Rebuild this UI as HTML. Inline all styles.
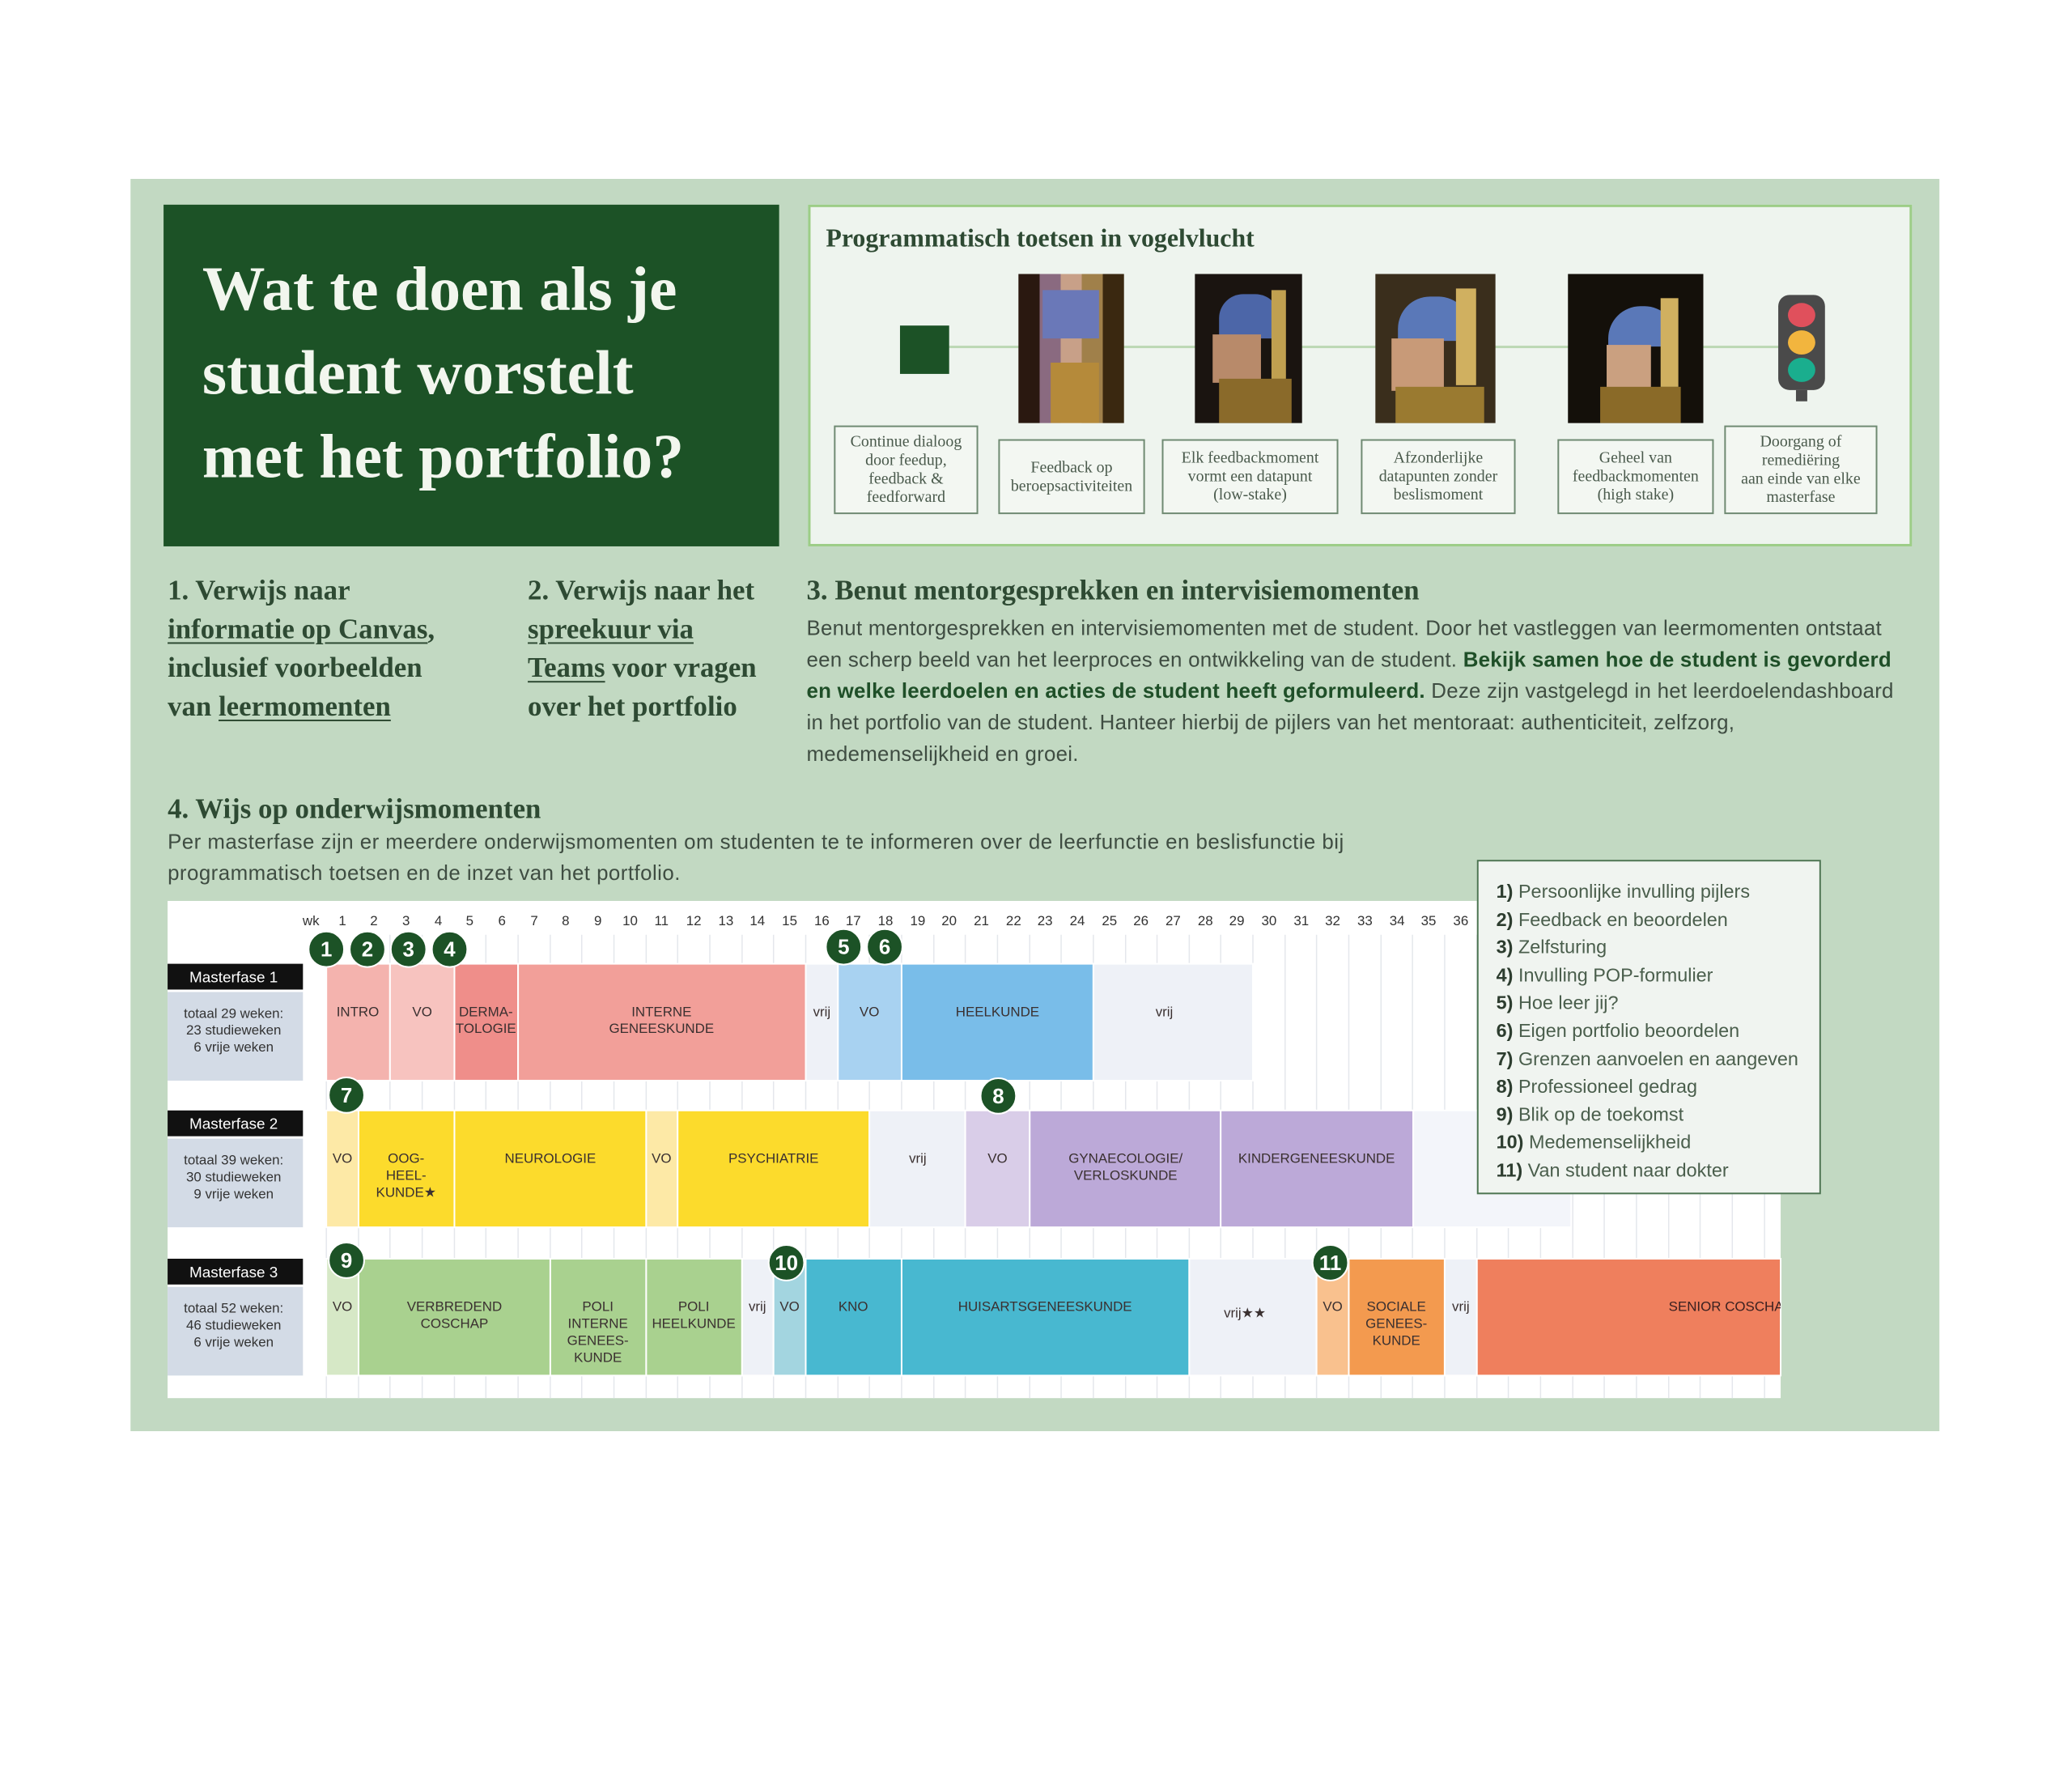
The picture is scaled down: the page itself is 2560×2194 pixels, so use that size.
<!DOCTYPE html>
<html><head><meta charset="utf-8">
<style>
*{margin:0;padding:0;box-sizing:border-box}
body{width:2560px;height:2194px;background:#fff;position:relative;overflow:hidden;font-family:"Liberation Sans",sans-serif}
#w{position:absolute;left:0;top:0;width:2560px;height:2194px;transform:scale(0.9955);transform-origin:0 0}
.a{position:absolute}
.serif{font-family:"Liberation Serif",serif}
.title{left:203px;top:254px;width:764px;height:424px;background:#1c5226}
.title div{position:absolute;left:48px;top:52px;color:#f2f6ee;font-family:"Liberation Serif",serif;font-weight:bold;font-size:78px;line-height:104px;white-space:nowrap}
.prog{left:1003px;top:254px;width:1370px;height:424px;background:#eef4ee;border:3px solid #9ccd86}
.lbl{position:absolute;border:2px solid #6f8a72;background:#f3f7f2;color:#4a5a4c;font-family:"Liberation Serif",serif;font-size:20px;line-height:23px;text-align:center;display:flex;align-items:center;justify-content:center}
.h{color:#2e4a33;font-family:"Liberation Serif",serif;font-weight:bold;font-size:35px;line-height:48px;white-space:nowrap}
.h u{text-decoration-thickness:2px;text-underline-offset:5px}
.body{color:#3f4d42;font-size:26px;line-height:39px;white-space:nowrap}
.body b{color:#1f4f28}
.paint{position:absolute;background:#1a1410;overflow:hidden}
.legend{left:1833px;top:1067px;width:427px;height:415px;background:#f0f4f0;border:2px solid #4d7552;padding:20px 0 0 22px}
.legend div{color:#4a5e4c;font-size:23.5px;line-height:34.6px;white-space:nowrap}
.legend b{color:#2d3d2f}
</style></head><body><div id="w">
<div class="a" style="left:162px;top:222px;width:2245px;height:1554px;background:#c2d9c2"></div>

<div class="a title"><div>Wat te doen als je<br>student worstelt<br>met het portfolio?</div></div>

<div class="a prog">
  <div class="a serif" style="left:19px;top:20px;font-size:32px;font-weight:bold;color:#2e4a33;white-space:nowrap">Programmatisch toetsen in vogelvlucht</div>
  <div class="a" style="left:172px;top:172px;width:1030px;height:3px;background:#bcd8b4"></div>
  <div class="a" style="left:111px;top:147px;width:61px;height:60px;background:#1c5226"></div>
  <div class="paint" style="left:258px;top:83px;width:131px;height:185px;background:linear-gradient(90deg,#2a1810 0 20%,#8a6a80 20% 40%,#c8a088 40% 60%,#a0804a 60% 80%,#3a2810 80%)">
    <div class="a" style="left:30px;top:20px;width:70px;height:60px;background:#6a78b8"></div>
    <div class="a" style="left:40px;top:110px;width:60px;height:75px;background:#b58a3a"></div>
  </div>
  <div class="paint" style="left:477px;top:83px;width:133px;height:185px">
    <div class="a" style="left:30px;top:25px;width:75px;height:55px;background:#4c66a8;border-radius:30px 30px 0 0"></div>
    <div class="a" style="left:22px;top:75px;width:60px;height:60px;background:#b88a6a"></div>
    <div class="a" style="left:30px;top:130px;width:90px;height:55px;background:#8a6a2a"></div>
    <div class="a" style="left:95px;top:20px;width:18px;height:110px;background:#c0a050"></div>
  </div>
  <div class="paint" style="left:701px;top:83px;width:149px;height:185px;background:#3a2e1c">
    <div class="a" style="left:28px;top:28px;width:90px;height:55px;background:#5a78b8;border-radius:40px 40px 0 0"></div>
    <div class="a" style="left:20px;top:80px;width:65px;height:65px;background:#c89a78"></div>
    <div class="a" style="left:25px;top:140px;width:110px;height:45px;background:#9a7a30"></div>
    <div class="a" style="left:100px;top:18px;width:25px;height:120px;background:#d0b060"></div>
  </div>
  <div class="paint" style="left:940px;top:83px;width:168px;height:185px;background:#14100a">
    <div class="a" style="left:50px;top:40px;width:85px;height:50px;background:#5a78b8;border-radius:40px 40px 0 0"></div>
    <div class="a" style="left:48px;top:88px;width:55px;height:60px;background:#caa080"></div>
    <div class="a" style="left:40px;top:140px;width:100px;height:45px;background:#8a6a28"></div>
    <div class="a" style="left:115px;top:30px;width:22px;height:110px;background:#d0b060"></div>
  </div>
  <div class="a" style="left:1201px;top:109px;width:58px;height:118px;background:#4a4a4a;border-radius:14px">
    <div class="a" style="left:12px;top:10px;width:34px;height:30px;border-radius:50%;background:#e0505c"></div>
    <div class="a" style="left:12px;top:44px;width:34px;height:30px;border-radius:50%;background:#f2b53e"></div>
    <div class="a" style="left:12px;top:78px;width:34px;height:30px;border-radius:50%;background:#1aae8e"></div>
  </div>
  <div class="a" style="left:1223px;top:227px;width:14px;height:14px;background:#4a4a4a"></div>
  <div class="lbl" style="left:29px;top:271px;width:179px;height:110px">Continue dialoog<br>door feedup,<br>feedback &amp;<br>feedforward</div>
  <div class="lbl" style="left:233px;top:288px;width:182px;height:93px">Feedback op<br>beroepsactiviteiten</div>
  <div class="lbl" style="left:436px;top:288px;width:219px;height:93px">Elk feedbackmoment<br>vormt een datapunt<br>(low-stake)</div>
  <div class="lbl" style="left:683px;top:288px;width:192px;height:93px">Afzonderlijke<br>datapunten zonder<br>beslismoment</div>
  <div class="lbl" style="left:927px;top:288px;width:194px;height:93px">Geheel van<br>feedbackmomenten<br>(high stake)</div>
  <div class="lbl" style="left:1134px;top:271px;width:190px;height:110px">Doorgang of<br>remediëring<br>aan einde van elke<br>masterfase</div>
</div>

<div class="a h" style="left:208px;top:709px">1. Verwijs naar<br><u>informatie op Canvas</u>,<br>inclusief voorbeelden<br>van <u>leermomenten</u></div>
<div class="a h" style="left:655px;top:709px"><span>2. Verwijs naar het</span><br><u>spreekuur via</u><br><u>Teams</u> voor vragen<br>over het portfolio</div>
<div class="a h" style="left:1001px;top:709px">3. Benut mentorgesprekken en intervisiemomenten</div>
<div class="a body" style="left:1001px;top:760px;letter-spacing:0.25px">Benut mentorgesprekken en intervisiemomenten met de student. Door het vastleggen van leermomenten ontstaat<br>een scherp beeld van het leerproces en ontwikkeling van de student. <b>Bekijk samen hoe de student is gevorderd</b><br><b>en welke leerdoelen en acties de student heeft geformuleerd.</b> Deze zijn vastgelegd in het leerdoelendashboard<br>in het portfolio van de student. Hanteer hierbij de pijlers van het mentoraat: authenticiteit, zelfzorg,<br>medemenselijkheid en groei.</div>

<div class="a h" style="left:208px;top:980px">4. Wijs op onderwijsmomenten</div>
<div class="a body" style="left:208px;top:1025px;font-size:26px;letter-spacing:0.45px">Per masterfase zijn er meerdere onderwijsmomenten om studenten te te informeren over de leerfunctie en beslisfunctie bij<br>programmatisch toetsen en de inzet van het portfolio.</div>

<svg class="a" style="left:0;top:0" width="2560" height="2194" font-family="Liberation Sans, sans-serif">
<rect x="208" y="1118" width="2002" height="617" fill="#fff"/>
<g stroke="#e4e7ec" stroke-width="1.5">
<line x1="405" y1="1160" x2="405" y2="1735"/><line x1="445" y1="1160" x2="445" y2="1735"/><line x1="484" y1="1160" x2="484" y2="1735"/><line x1="524" y1="1160" x2="524" y2="1735"/><line x1="564" y1="1160" x2="564" y2="1735"/><line x1="603" y1="1160" x2="603" y2="1735"/><line x1="643" y1="1160" x2="643" y2="1735"/><line x1="683" y1="1160" x2="683" y2="1735"/><line x1="722" y1="1160" x2="722" y2="1735"/><line x1="762" y1="1160" x2="762" y2="1735"/><line x1="802" y1="1160" x2="802" y2="1735"/><line x1="841" y1="1160" x2="841" y2="1735"/><line x1="881" y1="1160" x2="881" y2="1735"/><line x1="921" y1="1160" x2="921" y2="1735"/><line x1="960" y1="1160" x2="960" y2="1735"/><line x1="1000" y1="1160" x2="1000" y2="1735"/><line x1="1040" y1="1160" x2="1040" y2="1735"/><line x1="1079" y1="1160" x2="1079" y2="1735"/><line x1="1119" y1="1160" x2="1119" y2="1735"/><line x1="1159" y1="1160" x2="1159" y2="1735"/><line x1="1198" y1="1160" x2="1198" y2="1735"/><line x1="1238" y1="1160" x2="1238" y2="1735"/><line x1="1278" y1="1160" x2="1278" y2="1735"/><line x1="1317" y1="1160" x2="1317" y2="1735"/><line x1="1357" y1="1160" x2="1357" y2="1735"/><line x1="1397" y1="1160" x2="1397" y2="1735"/><line x1="1436" y1="1160" x2="1436" y2="1735"/><line x1="1476" y1="1160" x2="1476" y2="1735"/><line x1="1515" y1="1160" x2="1515" y2="1735"/><line x1="1555" y1="1160" x2="1555" y2="1735"/><line x1="1595" y1="1160" x2="1595" y2="1735"/><line x1="1634" y1="1160" x2="1634" y2="1735"/><line x1="1674" y1="1160" x2="1674" y2="1735"/><line x1="1714" y1="1160" x2="1714" y2="1735"/><line x1="1753" y1="1160" x2="1753" y2="1735"/><line x1="1793" y1="1160" x2="1793" y2="1735"/><line x1="1833" y1="1160" x2="1833" y2="1735"/><line x1="1872" y1="1160" x2="1872" y2="1735"/><line x1="1912" y1="1160" x2="1912" y2="1735"/><line x1="1952" y1="1160" x2="1952" y2="1735"/><line x1="1991" y1="1160" x2="1991" y2="1735"/><line x1="2031" y1="1160" x2="2031" y2="1735"/><line x1="2071" y1="1160" x2="2071" y2="1735"/><line x1="2110" y1="1160" x2="2110" y2="1735"/><line x1="2150" y1="1160" x2="2150" y2="1735"/><line x1="2190" y1="1160" x2="2190" y2="1735"/>
</g>
<g font-size="17" fill="#333" text-anchor="middle">
<text x="386" y="1148">wk</text><text x="425" y="1148">1</text><text x="464" y="1148">2</text><text x="504" y="1148">3</text><text x="544" y="1148">4</text><text x="583" y="1148">5</text><text x="623" y="1148">6</text><text x="663" y="1148">7</text><text x="702" y="1148">8</text><text x="742" y="1148">9</text><text x="782" y="1148">10</text><text x="821" y="1148">11</text><text x="861" y="1148">12</text><text x="901" y="1148">13</text><text x="940" y="1148">14</text><text x="980" y="1148">15</text><text x="1020" y="1148">16</text><text x="1059" y="1148">17</text><text x="1099" y="1148">18</text><text x="1139" y="1148">19</text><text x="1178" y="1148">20</text><text x="1218" y="1148">21</text><text x="1258" y="1148">22</text><text x="1297" y="1148">23</text><text x="1337" y="1148">24</text><text x="1377" y="1148">25</text><text x="1416" y="1148">26</text><text x="1456" y="1148">27</text><text x="1496" y="1148">28</text><text x="1535" y="1148">29</text><text x="1575" y="1148">30</text><text x="1615" y="1148">31</text><text x="1654" y="1148">32</text><text x="1694" y="1148">33</text><text x="1734" y="1148">34</text><text x="1773" y="1148">35</text><text x="1813" y="1148">36</text>
</g>
<g>
<rect x="208" y="1196" width="168" height="32" fill="#111"/><rect x="208" y="1231" width="168" height="110" fill="#d3dbe6"/>
<rect x="208" y="1378" width="168" height="32" fill="#111"/><rect x="208" y="1413" width="168" height="110" fill="#d3dbe6"/>
<rect x="208" y="1562" width="168" height="32" fill="#111"/><rect x="208" y="1597" width="168" height="110" fill="#d3dbe6"/>
</g>
<g font-size="19" fill="#fff" text-anchor="middle">
<text x="290" y="1219">Masterfase 1</text><text x="290" y="1401">Masterfase 2</text><text x="290" y="1585">Masterfase 3</text>
</g>
<g font-size="17" fill="#333" text-anchor="middle">
<text x="290" y="1263">totaal 29 weken:</text><text x="290" y="1284">23 studieweken</text><text x="290" y="1305">6 vrije weken</text>
<text x="290" y="1445">totaal 39 weken:</text><text x="290" y="1466">30 studieweken</text><text x="290" y="1487">9 vrije weken</text>
<text x="290" y="1629">totaal 52 weken:</text><text x="290" y="1650">46 studieweken</text><text x="290" y="1671">6 vrije weken</text>
</g>
<g stroke="#fff" stroke-width="2">
<rect x="405" y="1196" width="79" height="145" fill="#f4b3ae"/><rect x="484" y="1196" width="80" height="145" fill="#f7c3bf"/><rect x="564" y="1196" width="79" height="145" fill="#ef8e8a"/><rect x="643" y="1196" width="357" height="145" fill="#f29f99"/><rect x="1000" y="1196" width="40" height="145" fill="#eef1f7"/><rect x="1040" y="1196" width="79" height="145" fill="#a8d2f1"/><rect x="1119" y="1196" width="238" height="145" fill="#79bde9"/><rect x="1357" y="1196" width="198" height="145" fill="#eef1f7"/>
<rect x="405" y="1378" width="40" height="145" fill="#fde9a6"/><rect x="445" y="1378" width="119" height="145" fill="#fcdb2c"/><rect x="564" y="1378" width="238" height="145" fill="#fcdb2c"/><rect x="802" y="1378" width="39" height="145" fill="#fde9a6"/><rect x="841" y="1378" width="238" height="145" fill="#fcdb2c"/><rect x="1079" y="1378" width="119" height="145" fill="#eef1f7"/><rect x="1198" y="1378" width="80" height="145" fill="#d9cde8"/><rect x="1278" y="1378" width="237" height="145" fill="#bca9d8"/><rect x="1515" y="1378" width="239" height="145" fill="#bca9d8"/><rect x="1754" y="1378" width="196" height="145" fill="#f3f5fa"/>
<rect x="405" y="1562" width="40" height="145" fill="#d6e8c6"/><rect x="445" y="1562" width="238" height="145" fill="#a9d18f"/><rect x="683" y="1562" width="119" height="145" fill="#a9d18f"/><rect x="802" y="1562" width="119" height="145" fill="#a9d18f"/><rect x="921" y="1562" width="39" height="145" fill="#eef1f7"/><rect x="960" y="1562" width="40" height="145" fill="#a3d5e0"/><rect x="1000" y="1562" width="119" height="145" fill="#48b8d0"/><rect x="1119" y="1562" width="357" height="145" fill="#48b8d0"/><rect x="1476" y="1562" width="158" height="145" fill="#eef1f7"/><rect x="1634" y="1562" width="40" height="145" fill="#f9c18e"/><rect x="1674" y="1562" width="119" height="145" fill="#f39a4f"/><rect x="1793" y="1562" width="40" height="145" fill="#eef1f7"/><rect x="1833" y="1562" width="377" height="145" fill="#ef7f5d"/>
</g>
<g font-size="17" fill="#3a3030" text-anchor="middle">
<text x="444" y="1261">INTRO</text><text x="524" y="1261">VO</text><text x="603" y="1261">DERMA-</text><text x="603" y="1282">TOLOGIE</text><text x="821" y="1261">INTERNE</text><text x="821" y="1282">GENEESKUNDE</text><text x="1020" y="1261">vrij</text><text x="1079" y="1261">VO</text><text x="1238" y="1261">HEELKUNDE</text><text x="1445" y="1261">vrij</text>
<text x="425" y="1443">VO</text><text x="504" y="1443">OOG-</text><text x="504" y="1464">HEEL-</text><text x="504" y="1485">KUNDE★</text><text x="683" y="1443">NEUROLOGIE</text><text x="821" y="1443">VO</text><text x="960" y="1443">PSYCHIATRIE</text><text x="1139" y="1443">vrij</text><text x="1238" y="1443">VO</text><text x="1397" y="1443">GYNAECOLOGIE/</text><text x="1397" y="1464">VERLOSKUNDE</text><text x="1634" y="1443">KINDERGENEESKUNDE</text>
<text x="425" y="1627">VO</text><text x="564" y="1627">VERBREDEND</text><text x="564" y="1648">COSCHAP</text><text x="742" y="1627">POLI</text><text x="742" y="1648">INTERNE</text><text x="742" y="1669">GENEES-</text><text x="742" y="1690">KUNDE</text><text x="861" y="1627">POLI</text><text x="861" y="1648">HEELKUNDE</text><text x="940" y="1627">vrij</text><text x="980" y="1627">VO</text><text x="1059" y="1627">KNO</text><text x="1297" y="1627">HUISARTSGENEESKUNDE</text><text x="1545" y="1635">vrij★★</text><text x="1654" y="1627">VO</text><text x="1733" y="1627">SOCIALE</text><text x="1733" y="1648">GENEES-</text><text x="1733" y="1669">KUNDE</text><text x="1813" y="1627">vrij</text>
</g>
<svg x="1833" y="1562" width="377" height="145"><text x="238" y="65" font-size="17" fill="#3a2020">SENIOR COSCHAP</text></svg>
<g fill="#1c5226" stroke="#fff" stroke-width="2">
<circle cx="405" cy="1178" r="22"/><circle cx="456" cy="1178" r="22"/><circle cx="507" cy="1178" r="22"/><circle cx="558" cy="1178" r="22"/><circle cx="1047" cy="1175" r="22"/><circle cx="1098" cy="1175" r="22"/><circle cx="430" cy="1359" r="22"/><circle cx="1239" cy="1360" r="22"/><circle cx="430" cy="1564" r="22"/><circle cx="976" cy="1567" r="22"/><circle cx="1651" cy="1567" r="22"/>
</g>
<g fill="#fff" font-size="26" font-weight="bold" text-anchor="middle">
<text x="405" y="1187">1</text><text x="456" y="1187">2</text><text x="507" y="1187">3</text><text x="558" y="1187">4</text><text x="1047" y="1184">5</text><text x="1098" y="1184">6</text><text x="430" y="1368">7</text><text x="1239" y="1369">8</text><text x="430" y="1573">9</text><text x="976" y="1576">10</text><text x="1651" y="1576">11</text>
</g>
</svg>

<div class="a legend">
<div><b>1)</b> Persoonlijke invulling pijlers</div>
<div><b>2)</b> Feedback en beoordelen</div>
<div><b>3)</b> Zelfsturing</div>
<div><b>4)</b> Invulling POP-formulier</div>
<div><b>5)</b> Hoe leer jij?</div>
<div><b>6)</b> Eigen portfolio beoordelen</div>
<div><b>7)</b> Grenzen aanvoelen en aangeven</div>
<div><b>8)</b> Professioneel gedrag</div>
<div><b>9)</b> Blik op de toekomst</div>
<div><b>10)</b> Medemenselijkheid</div>
<div><b>11)</b> Van student naar dokter</div>
</div>
</div></body></html>
